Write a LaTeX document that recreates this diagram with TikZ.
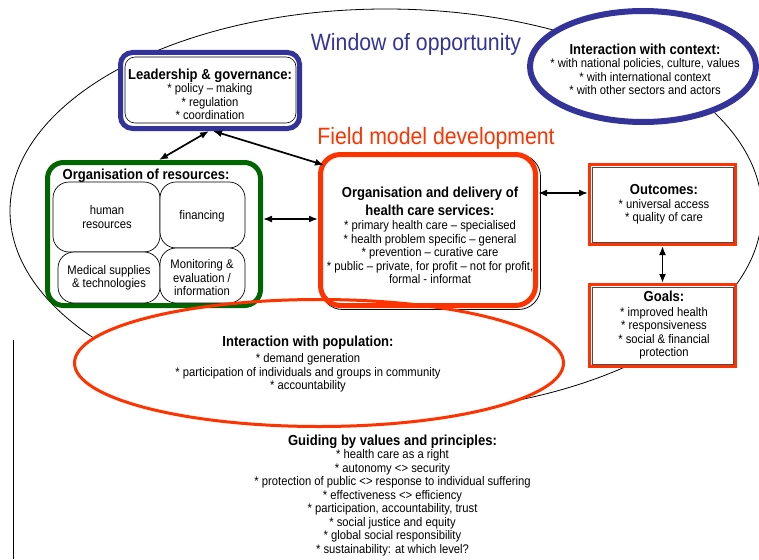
\documentclass[tikz,border=0pt]{standalone}
\usepackage{fontspec}
\setmainfont[FakeStretch=0.9]{Liberation Sans}
\usetikzlibrary{shapes.geometric,arrows.meta,calc}
\definecolor{blueC}{RGB}{51,51,153}
\definecolor{redC}{RGB}{255,51,0}
\definecolor{greenC}{RGB}{0,102,0}
\newcommand\ttlf{\bfseries\fontsize{14.5}{17}\selectfont}
\begin{document}
\begin{tikzpicture}[x=1pt,y=-1pt,
  txt/.style={align=center,inner sep=0pt,font=\fontsize{12.5}{13.5}\selectfont},
  arr/.style={{Latex[length=9pt,width=7pt]}-{Latex[length=9pt,width=7pt]},line width=1.7pt},
  subbox/.style={draw,line width=0.7pt,rounded corners=16pt,fill=white,inner sep=0pt},
  bigtitle/.style={anchor=base,inner sep=0pt,font=\fontsize{23.6}{28}\selectfont}]
\useasboundingbox (0,0) rectangle (759,559);
% outer window ellipse
\node[ellipse,draw=black,line width=0.8pt,minimum width=752pt,minimum height=404pt,inner sep=0pt] (window) at (386,211) {};
% left vertical line
\draw[line width=0.8pt] (13,340) -- (13,559);
% population ellipse fill
\node[ellipse,fill=white,minimum width=489pt,minimum height=127pt,inner sep=0pt] (popfill) at (319,363) {};
% leadership
\node[draw=blueC,line width=5pt,fill=white,rounded corners=12pt,minimum width=179pt,minimum height=76pt,inner sep=0pt] (lead) at (210,90.5) {};
\draw[line width=0.6pt,rounded corners=10pt] (125,57) rectangle (296,123);
% context
\node[ellipse,draw=blueC,line width=6pt,fill=white,minimum width=226pt,minimum height=111pt,inner sep=0pt] (ctx) at (643,66.5) {};
% resources
\node[draw=greenC,line width=5pt,fill=white,rounded corners=16pt,minimum width=213pt,minimum height=143pt,inner sep=0pt] (res) at (154,234) {};
\node[subbox,minimum width=107pt,minimum height=70pt] (hum) at (106.5,217) {};
\node[subbox,minimum width=85pt,minimum height=66pt] (fin) at (202.5,215) {};
\node[subbox,minimum width=102pt,minimum height=51pt] (med) at (109,277.5) {};
\node[subbox,minimum width=85pt,minimum height=55pt] (mon) at (202.5,275.5) {};
% services
\node[draw=black,line width=0.8pt,rounded corners=22pt,minimum width=220pt,minimum height=155pt,inner sep=0pt] (svcshadow) at (430.5,232) {};
\node[draw=redC,line width=5pt,fill=white,rounded corners=20pt,minimum width=215pt,minimum height=151pt,inner sep=0pt] (svc) at (428,230) {};
% outcomes and goals
\node[draw=redC,line width=3pt,fill=white,minimum width=146pt,minimum height=80pt,inner sep=0pt] (out) at (662.5,204.5) {};
\draw[line width=0.5pt,black!70] (592,167) rectangle (733,242);
\node[draw=redC,line width=3pt,fill=white,minimum width=146pt,minimum height=82pt,inner sep=0pt] (goals) at (662.5,325.5) {};
\draw[line width=0.5pt,black!70] (592,287) rectangle (733,364);
% population ellipse stroke
\node[ellipse,draw=redC,line width=3pt,minimum width=489pt,minimum height=127pt,inner sep=0pt] (pop) at (319,363) {};
% arrows
\coordinate (r1) at ([yshift=15pt]res.east);
\coordinate (o1) at ([yshift=11.5pt]out.west);
\draw[arr] ([xshift=-1pt]lead.south) -- ([xshift=5pt]res.north);
\draw[arr] ([xshift=3pt]lead.south) -- ([shift={(6pt,-13pt)}]svc.north west);
\draw[arr] (r1) -- (r1 -| svc.west);
\draw[arr] (o1 -| svc.east) -- (o1);
\draw[arr] (out.south) -- (goals.north);
% titles
\node[bigtitle,text=blueC] (wtitle) at (416,51) {Window of opportunity};
\node[bigtitle,text=redC] (ftitle) at (436,144) {Field model development};
% texts
\node[txt,anchor=north] (leadtxt) at (210,68.4) {{\ttlf Leadership \& governance:}\\ * policy -- making\\ * regulation\\ * coordination};
\node[txt,anchor=north] (ctxtxt) at (645,43.4) {{\ttlf Interaction with context:}\\ * with national policies, culture, values\\ * with international context\\ * with other sectors and actors};
\node[txt,anchor=base,font=\ttlf] (restxt) at (146,179.8) {Organisation of resources:};
\node[txt] (humtxt) at (107,217) {human\\ resources};
\node[txt] (fintxt) at (202,216) {financing};
\node[txt] (medtxt) at (109,278) {Medical supplies\\ \& technologies};
\node[txt] (montxt) at (202,278) {Monitoring \&\\ evaluation /\\ information};
\node[txt,anchor=north] (svctxt) at (430,186.4) {{\ttlf Organisation and delivery of}\\[3.5pt] {\ttlf health care services:}\\[1pt] * primary health care -- specialised\\ * health problem specific -- general\\ * prevention -- curative care\\ * public -- private, for profit -- not for profit,\\ formal - informat};
\node[txt,anchor=north] (outtxt) at (664,184.4) {{\ttlf Outcomes:}\\ * universal access\\ * quality of care};
\node[txt,anchor=north] (goaltxt) at (664,290.4) {{\ttlf Goals:}\\[1.5pt] * improved health\\ * responsiveness\\ * social \& financial\\ protection};
\node[txt,anchor=north] (poptxt) at (308,335.4) {{\ttlf Interaction with population:}\\[3pt] * demand generation\\ * participation of individuals and groups in community\\ * accountability};
\node[txt,anchor=north] (guidetxt) at (392.5,434.4) {{\ttlf Guiding by values and principles:}\\ * health care as a right\\ * autonomy <> security\\ * protection of public <> response to individual suffering\\ * effectiveness <> efficiency\\ * participation, accountability, trust\\ * social justice and equity\\ * global social responsibility\\ * sustainability: at which level?};
\end{tikzpicture}
\end{document}
